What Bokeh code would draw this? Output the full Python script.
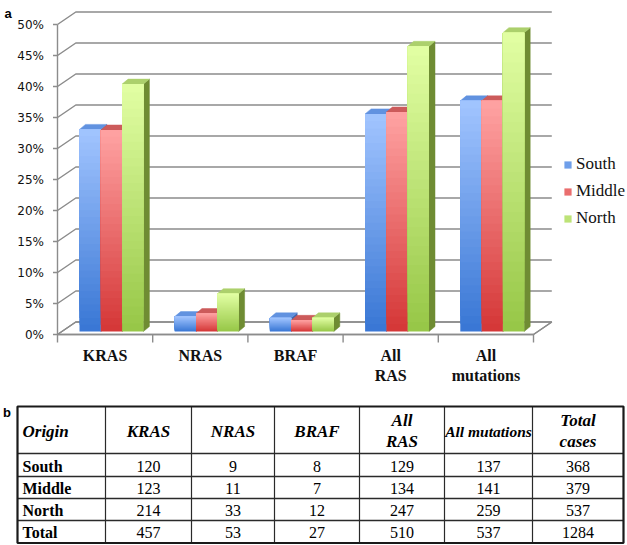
from bokeh.plotting import figure
from bokeh.models import Range1d, Legend, LegendItem, ColumnDataSource
from bokeh.layouts import column
from bokeh.embed import file_html
from bokeh.resources import INLINE
from bokeh.core.properties import value

# ---------------- data ----------------
categories = ["KRAS", "NRAS", "BRAF", "All\nRAS", "All\nmutations"]
regions = ["South", "Middle", "North"]
south_pct = [32.6, 2.4, 2.2, 35.1, 37.2]
middle_pct = [32.5, 2.9, 1.8, 35.4, 37.2]
north_pct = [39.9, 6.1, 2.2, 46.0, 48.2]
y_ticks = [0, 5, 10, 15, 20, 25, 30, 35, 40, 45, 50]
y_tick_labels = ["0%", "5%", "10%", "15%", "20%", "25%", "30%", "35%", "40%", "45%", "50%"]

table_header = ["Origin", "KRAS", "NRAS", "BRAF", "All\nRAS", "All mutations", "Total\ncases"]
table_rows = ["South", "Middle", "North", "Total"]
south_counts = [120, 9, 8, 129, 137, 368]
middle_counts = [123, 11, 7, 134, 141, 379]
north_counts = [214, 33, 12, 247, 259, 537]
total_counts = [457, 53, 27, 510, 537, 1284]

# ---------------- layout constants ----------------
W, H1, H2 = 627, 390, 155
CAT_PX = 95.2        # px per category
PCT_PX = 6.2         # px per percent
X0_PX = 57.0         # front-left corner (px)
Y0_PX = 334.0        # 0% on the front plane (px)

def xd(xr):
    return (xr - X0_PX) / CAT_PX

def yd(yr):
    return (Y0_PX - yr) / PCT_PX

DX = 18.3 / CAT_PX        # depth of the chart box
DY = 12.5 / PCT_PX
BW = 21.3 / CAT_PX        # bar width
GOFF = 22.0 / CAT_PX      # offset of first bar in a group
B0 = 3.0 / PCT_PX         # bar base lift (bars sit inside the box)
BDX = 6.0 / CAT_PX        # bar depth
BDY = 5.0 / PCT_PX
NCAT = len(categories)
GRID = "#8c8c8c"

p = figure(width=W, height=H1, output_backend="svg", toolbar_location=None,
           x_range=Range1d(xd(0), xd(W)),
           y_range=Range1d(yd(H1), yd(0)),
           x_axis_type=None, y_axis_type=None, title=None, min_border=0)
p.outline_line_color = None
p.grid.visible = False
p.background_fill_color = "white"

# floor
p.patch(x=[0, NCAT, NCAT + DX, DX], y=[0, 0, DY, DY], fill_color="white",
        line_color=GRID, line_width=1.4)

# back wall gridlines + left diagonals
gx, gy = [], []
for v in y_ticks:
    gx.append([0, DX, NCAT + DX])
    gy.append([v, v + DY, v + DY])
p.multi_line(xs=gx, ys=gy, line_color=GRID, line_width=1.5)

# left axis line and ticks
p.segment(x0=[0], y0=[0], x1=[0], y1=[y_ticks[-1]], line_color=GRID, line_width=1.4)
p.segment(x0=[-4.5 / CAT_PX] * len(y_ticks), y0=y_ticks, x1=[0] * len(y_ticks), y1=y_ticks,
          line_color=GRID, line_width=1.4)
# category ticks below floor
cat_edges = list(range(NCAT + 1))
p.segment(x0=cat_edges, y0=[0] * len(cat_edges), x1=cat_edges,
          y1=[-8.0 / PCT_PX] * len(cat_edges), line_color=GRID, line_width=1.4)

# y tick labels
p.text(x=[xd(43.5)] * len(y_ticks), y=y_ticks, text=y_tick_labels,
       text_align="right", text_baseline="middle", text_font=value("DejaVu Sans"),
       text_font_size="12px", text_color="#111111")

# bars
def hexc(c):
    return "#%02x%02x%02x" % tuple(int(round(v)) for v in c)

def lerp(c1, c2, t):
    return hexc([a + (b - a) * t for a, b in zip(c1, c2)])

series = [
    (south_pct, (162, 197, 255), (56, 118, 212), "#3d66ae", "#6192e0"),
    (middle_pct, (255, 163, 163), (212, 54, 54), "#a53232", "#cc5b5b"),
    (north_pct, (226, 255, 164), (150, 198, 70), "#6f8c33", "#acd06c"),
]
NS = 30
legend_items = []
for i, (vals, ctop, cbot, cside, ctopface) in enumerate(series):
    lefts = [c + GOFF + i * BW for c in range(NCAT)]
    rights = [l + BW for l in lefts]
    tops = [B0 + v for v in vals]
    side_xs = [[r, r + BDX, r + BDX, r] for r in rights]
    side_ys = [[B0, B0 + BDY, t + BDY, t] for t in tops]
    top_xs = [[l, r, r + BDX, l + BDX] for l, r in zip(lefts, rights)]
    top_ys = [[t, t, t + BDY, t + BDY] for t in tops]
    p.patches(xs=side_xs, ys=side_ys, fill_color=cside, line_color=cside, line_width=0.5)
    p.patches(xs=top_xs, ys=top_ys, fill_color=ctopface, line_color=ctopface, line_width=0.5)
    # front face: vertical gradient built from overlapping slices that all reach the bar top
    sl, sr, sb, st, sc = [], [], [], [], []
    for l, r, v in zip(lefts, rights, vals):
        for k in range(NS):
            sl.append(l)
            sr.append(r)
            sb.append(B0 + v * k / NS)
            st.append(B0 + v)
            sc.append(lerp(cbot, ctop, (k + 0.5) / NS))
    src = ColumnDataSource(dict(left=sl, right=sr, bottom=sb, top=st, color=sc))
    rend = p.quad(left="left", right="right", bottom="bottom", top="top", source=src,
                  fill_color="color", line_color=None)
    legend_items.append(LegendItem(label=regions[i], renderers=[rend], index=NS // 2))

# front edge of floor and right diagonal
p.segment(x0=[0, NCAT], y0=[0, 0], x1=[NCAT, NCAT + DX], y1=[0, DY],
          line_color=GRID, line_width=1.4)

# category labels
p.text(x=[c + 0.5 for c in range(NCAT)], y=[yd(346.5)] * NCAT, text=categories,
       text_align="center", text_baseline="top", text_font=value("Liberation Serif"),
       text_font_style="bold", text_font_size="16px", text_color="#111111",
       text_line_height=1.15)

# panel label a
p.text(x=[xd(7.5)], y=[yd(12.5)], text=["a"], text_align="center", text_baseline="alphabetic",
       text_font=value("Liberation Sans"), text_font_style="bold", text_font_size="13px",
       text_color="black")

legend = Legend(items=legend_items, location=(563, 162), orientation="vertical",
                glyph_width=9, glyph_height=9, label_height=20, spacing=7, label_standoff=4,
                padding=0, margin=0, border_line_color=None, background_fill_alpha=0,
                label_text_font="Liberation Serif", label_text_font_size="17px",
                label_text_color="#111111", label_text_baseline="middle")
p.add_layout(legend)

# ---------------- table ----------------
t = figure(width=W, height=H2, output_backend="svg", toolbar_location=None,
           x_range=Range1d(0, W), y_range=Range1d(H1 + H2, H1),
           x_axis_type=None, y_axis_type=None, title=None, min_border=0)
t.outline_line_color = None
t.grid.visible = False

col_edges = [17, 105, 191, 274, 359, 444, 532, 623]
row_edges = [406, 453, 476, 498, 520, 542.5]
col_centers = [(a + b) / 2 for a, b in zip(col_edges[:-1], col_edges[1:])]
row_centers = [(a + b) / 2 for a, b in zip(row_edges[:-1], row_edges[1:])]

t.segment(x0=col_edges[1:-1], y0=[row_edges[0]] * 6, x1=col_edges[1:-1], y1=[row_edges[-1]] * 6,
          line_color="#2a2a2a", line_width=1.2)
t.segment(x0=[col_edges[0]] * 4, y0=row_edges[1:-1], x1=[col_edges[-1]] * 4, y1=row_edges[1:-1],
          line_color="#2a2a2a", line_width=1.5)
t.quad(left=[col_edges[0]], right=[col_edges[-1]], top=[row_edges[0]], bottom=[row_edges[-1]],
       fill_color=None, line_color="#1a1a1a", line_width=2.2)

hdr_y = (row_edges[0] + row_edges[1]) / 2 + 1
t.text(x=[22], y=[hdr_y], text=[table_header[0]], text_align="left", text_baseline="middle",
       text_font=value("Liberation Serif"), text_font_style="bold italic",
       text_font_size="17px", text_color="black")
big_idx = [1, 2, 3, 4, 6]
t.text(x=[col_centers[i] for i in big_idx], y=[hdr_y] * len(big_idx),
       text=[table_header[i] for i in big_idx], text_align="center", text_baseline="middle",
       text_font=value("Liberation Serif"), text_font_style="bold italic",
       text_font_size="17px", text_color="black", text_line_height=1.1)
t.text(x=[col_centers[5]], y=[hdr_y], text=[table_header[5]], text_align="center",
       text_baseline="middle", text_font=value("Liberation Serif"),
       text_font_style="bold italic", text_font_size="15.5px", text_color="black")

t.text(x=[22] * 4, y=[rc + 1 for rc in row_centers[1:]], text=table_rows, text_align="left",
       text_baseline="middle", text_font=value("Liberation Serif"), text_font_style="bold",
       text_font_size="16px", text_color="black")
all_counts = [south_counts, middle_counts, north_counts, total_counts]
nx, ny, nt = [], [], []
for rc, counts in zip(row_centers[1:], all_counts):
    for cc, v in zip(col_centers[1:], counts):
        nx.append(cc)
        ny.append(rc + 1)
        nt.append(str(v))
t.text(x=nx, y=ny, text=nt, text_align="center", text_baseline="middle",
       text_font=value("Liberation Serif"), text_font_size="16px", text_color="black")

t.text(x=[6.5], y=[411.5], text=["b"], text_align="center", text_baseline="middle",
       text_font=value("Liberation Sans"), text_font_style="bold", text_font_size="13px",
       text_color="black")

layout = column(p, t, spacing=0)
open("out.html", "w").write(file_html(layout, INLINE))
